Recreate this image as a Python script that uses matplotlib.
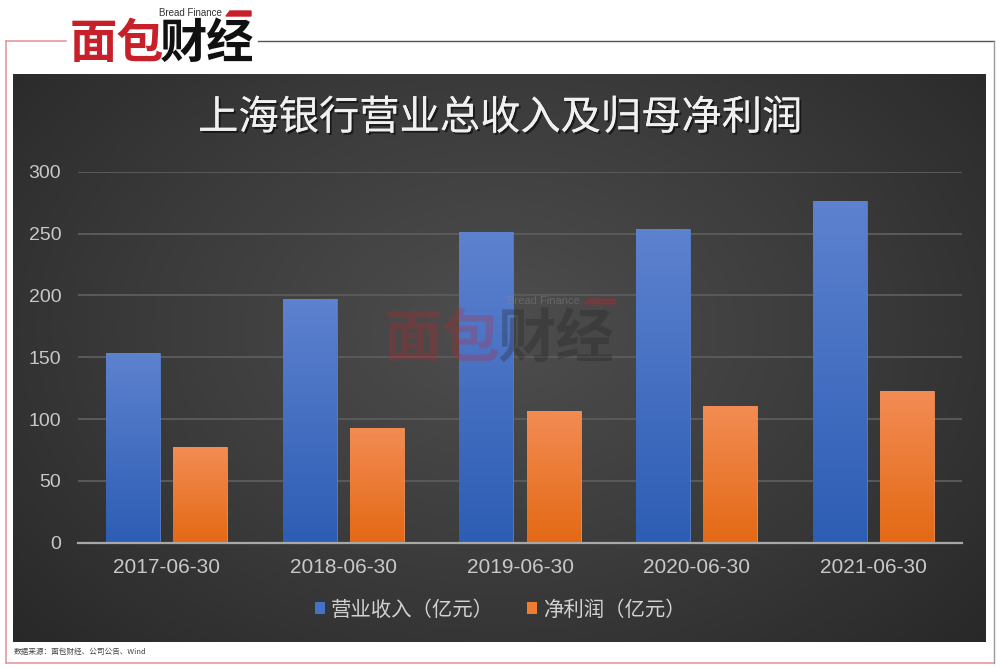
import numpy as np
import matplotlib
matplotlib.use('Agg')
import matplotlib.pyplot as plt
import matplotlib.patheffects as pe
from matplotlib.colors import LinearSegmentedColormap
from matplotlib.patches import Patch, Polygon

plt.rcParams['font.family'] = ['Noto Sans CJK SC', 'DejaVu Sans']

# data
dates = ['2017-06-30', '2018-06-30', '2019-06-30', '2020-06-30', '2021-06-30']
revenue = [153.3, 197.4, 251.6, 253.8, 276.6]
net_profit = [77.2, 93.0, 106.8, 110.8, 122.5]
yticks = [0, 50, 100, 150, 200, 250, 300]
title = '上海银行营业总收入及归母净利润'
legend_labels = ['营业收入（亿元）', '净利润（亿元）']
source = '数据来源：面包财经、公司公告、Wind'

W, H = 1000, 669
fig = plt.figure(figsize=(10, 6.69), dpi=100)

# background layer in pixel coordinates
bg = fig.add_axes([0, 0, 1, 1])
bg.set_xlim(0, W)
bg.set_ylim(H, 0)
bg.axis('off')

# dark panel with radial gradient
px0, px1, py0, py1 = 13, 986, 74, 642
gx, gy = np.meshgrid(np.linspace(0, 1, 400), np.linspace(0, 1, 300))
r = np.sqrt(((gx - 0.5) / 0.75) ** 2 + ((gy - 0.45) / 0.9) ** 2)
panel_cmap = LinearSegmentedColormap.from_list('panel', ['#4e4e4e', '#3a3a3a', '#242424'])
bg.imshow(np.clip(r, 0, 1), cmap=panel_cmap, vmin=0, vmax=1,
          extent=[px0, px1, py1, py0], aspect='auto', zorder=1)

# outer frame
pink = '#e39a9f'
bg.plot([6, 6], [41, 663], color=pink, lw=1.2, zorder=2)
bg.plot([6, 994], [663, 663], color=pink, lw=1.2, zorder=2)
bg.plot([6, 66], [41, 41], color=pink, lw=1.2, zorder=2)
bg.plot([258, 994], [41, 41], color='#555555', lw=1.0, zorder=2)
bg.plot([994, 994], [41, 663], color='#9a9a9a', lw=1.0, zorder=2)

# logo
logo_font = ['Noto Sans CJK SC', 'DejaVu Sans']
bg.text(70, 44, '面包', fontsize=34, fontweight='bold', color='#c8202a',
        family=logo_font, va='center', ha='left', zorder=3)
bg.text(160, 44, '财经', fontsize=34, fontweight='bold', color='#111111',
        family=logo_font, va='center', ha='left', zorder=3)
bg.text(222, 13, 'Bread Finance', fontsize=7, color='#333333', family='Liberation Sans',
        va='center', ha='right', zorder=3)
bg.add_patch(Polygon([[226, 16], [230, 11], [251, 11], [251, 16]], closed=True,
                     color='#c8202a', zorder=3))

# title
bg.text(500, 118, title, fontsize=29, color='#f0f0f0', ha='center', va='center', zorder=3,
        path_effects=[pe.withSimplePatchShadow(offset=(1.5, -1.5), shadow_rgbFace='black', alpha=0.55),
                      pe.Normal()])

# source note
bg.text(14, 652, source, fontsize=5.5, color='#444444', ha='left', va='center', zorder=3)

# main chart axes
ax = fig.add_axes([78 / W, 1 - 542.7 / H, 884 / W, 371 / H])
ax.set_facecolor('none')
ax.patch.set_visible(False)
x = np.arange(len(dates))
bw = 0.305
off = 0.19

blue_cmap = LinearSegmentedColormap.from_list('blue', ['#2d5db4', '#5d82cf'])
orange_cmap = LinearSegmentedColormap.from_list('orange', ['#e36914', '#f38c54'])

bars1 = ax.bar(x - off, revenue, bw, color='#4472c4', edgecolor='#5a7fc8', lw=0.6, zorder=3)
bars2 = ax.bar(x + off, net_profit, bw, color='#ed7d31', edgecolor='#f0905a', lw=0.6, zorder=3)

grad = np.linspace(0, 1, 256).reshape(-1, 1)
for bars, cmap in [(bars1, blue_cmap), (bars2, orange_cmap)]:
    for b in bars:
        bx, by = b.get_x(), b.get_y()
        bwid, bh = b.get_width(), b.get_height()
        im = ax.imshow(grad, cmap=cmap, origin='lower', aspect='auto',
                       extent=[bx, bx + bwid, by, by + bh], zorder=4)
        im.set_clip_path(b)

ax.set_xlim(-0.5, len(dates) - 0.5)
ax.set_ylim(0, 300)
ax.set_yticks(yticks)
ax.set_xticks(x)
ax.set_xticklabels(dates)
ax.yaxis.grid(True, color='#5a5a5a', lw=1.4, zorder=0)
ax.set_axisbelow(True)
for s in ['top', 'right', 'left']:
    ax.spines[s].set_visible(False)
ax.spines['bottom'].set_color('#a8a8a8')
ax.spines['bottom'].set_linewidth(1.6)
ax.spines['bottom'].set_zorder(5)
ax.tick_params(axis='y', length=0, colors='#c8c8c8', labelsize=14, pad=12)
ax.tick_params(axis='x', length=0, colors='#c8c8c8', labelsize=15, pad=11)
for lab in ax.get_xticklabels() + ax.get_yticklabels():
    lab.set_family('Liberation Sans')

# watermark on top of the bars
wm = fig.add_axes([0, 0, 1, 1])
wm.set_xlim(0, W)
wm.set_ylim(H, 0)
wm.axis('off')
wm.text(383, 340, '面包', fontsize=42, fontweight='bold', color='#c8202a', alpha=0.25,
        family=logo_font, va='center', ha='left')
wm.text(498, 340, '财经', fontsize=42, fontweight='bold', color='#222222', alpha=0.3,
        family=logo_font, va='center', ha='left')
wm.text(580, 301, 'Bread Finance', fontsize=8, color='#888888', alpha=0.45,
        family='Liberation Sans', va='center', ha='right')
wm.add_patch(Polygon([[584, 304], [588, 299], [615, 299], [615, 304]], closed=True,
                     color='#c8202a', alpha=0.3))

# legend
handles = [Patch(facecolor='#4472c4', edgecolor='none'),
           Patch(facecolor='#ed7d31', edgecolor='none')]
leg = fig.legend(handles, legend_labels, loc='center', bbox_to_anchor=(0.5, 1 - 610 / H),
                 ncol=2, frameon=False, fontsize=14.7, handlelength=0.5, handleheight=0.5,
                 handletextpad=0.3, columnspacing=1.6)
for t in leg.get_texts():
    t.set_color('#d2d2d2')

fig.savefig('out.png', dpi=100)
